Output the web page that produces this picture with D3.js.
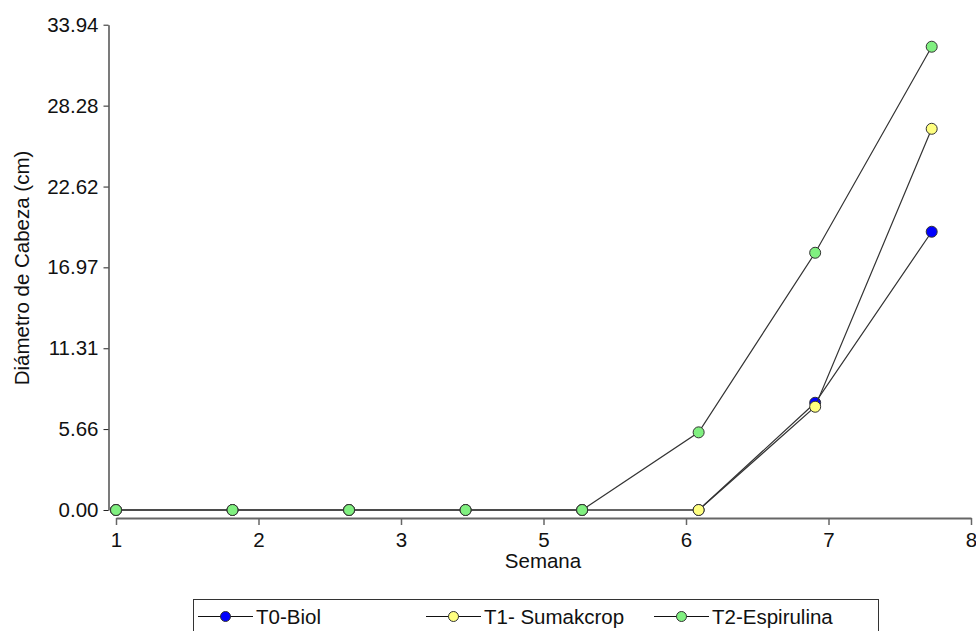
<!DOCTYPE html>
<html>
<head>
<meta charset="utf-8">
<script src="https://cdn.jsdelivr.net/npm/d3@7"></script>
<style>
  html, body { margin: 0; padding: 0; background: #fff; }
  svg { display: block; }
  text { font-family: "Liberation Sans", Arial, sans-serif; fill: #111; }
</style>
</head>
<body>
<svg id="chart" width="976" height="631"></svg>
<script>
// ---- data ----
const weeks = [1, 2, 3, 4, 5, 6, 7, 8];
const t0Biol = [0, 0, 0, 0, 0, 0, 7.50, 19.46];
const t1Sumakcrop = [0, 0, 0, 0, 0, 0, 7.22, 26.66];
const t2Espirulina = [0, 0, 0, 0, 0, 5.43, 17.99, 32.40];
const seriesNames = ["T0-Biol", "T1- Sumakcrop", "T2-Espirulina"];
const seriesColors = ["#0000ff", "#ffff80", "#80f080"];
const yTicks = [0, 5.66, 11.31, 16.97, 22.62, 28.28, 33.94];
const xTickLabels = ["1", "2", "3", "5", "6", "7", "8"];

const series = [t0Biol, t1Sumakcrop, t2Espirulina].map((vals, i) => ({
  name: seriesNames[i], color: seriesColors[i],
  pts: weeks.map((w, j) => ({ x: w, y: vals[j] }))
}));

const svg = d3.select("#chart");
const FS = "20.5px";

const x = d3.scaleLinear().domain([1, 8]).range([116, 931.7]);
const xAxisScale = d3.scalePoint().domain(xTickLabels).range([116, 971]);
const y = d3.scaleLinear().domain([0, 33.94]).range([510, 24.7]);

// y axis
const gy = svg.append("g").attr("transform", "translate(108.5,0)")
  .call(d3.axisLeft(y).tickValues(yTicks).tickFormat(d3.format(".2f"))
    .tickSize(5).tickSizeOuter(0).tickPadding(5));
gy.select(".domain").attr("stroke", "#222").attr("stroke-width", 1.2);
gy.selectAll(".tick line").attr("stroke", "#222");
gy.selectAll(".tick text").style("font-size", FS).attr("fill", "#111");

// x axis
const gx = svg.append("g").attr("transform", "translate(0,518)")
  .call(d3.axisBottom(xAxisScale).tickSize(7).tickSizeOuter(0).tickPadding(7));
gx.select(".domain").attr("stroke", "#666").attr("stroke-width", 2);
gx.selectAll(".tick line").attr("stroke", "#666").attr("stroke-width", 1.5);
gx.selectAll(".tick text").style("font-size", FS).attr("fill", "#111");

// axis titles
svg.append("text").attr("x", 543).attr("y", 568).attr("text-anchor", "middle")
  .style("font-size", FS).text("Semana");
svg.append("text").attr("transform", "translate(29,268) rotate(-90)")
  .attr("text-anchor", "middle").style("font-size", FS).text("Diámetro de Cabeza (cm)");

// lines and markers
const line = d3.line().x(d => x(d.x)).y(d => y(d.y));
const gs = svg.selectAll("g.series").data(series).join("g").attr("class", "series");
gs.append("path").attr("d", d => line(d.pts)).attr("fill", "none")
  .attr("stroke", "#333").attr("stroke-width", 1.2);
gs.selectAll("circle").data(d => d.pts.map(p => ({ ...p, color: d.color }))).join("circle")
  .attr("cx", d => x(d.x)).attr("cy", d => y(d.y)).attr("r", 5.5)
  .attr("fill", d => d.color).attr("stroke", "#333").attr("stroke-width", 1);

// legend
const legend = svg.append("g");
legend.append("rect").attr("x", 193.5).attr("y", 599.5).attr("width", 685).attr("height", 60)
  .attr("fill", "none").attr("stroke", "#333").attr("stroke-width", 1);
const legendX = d3.scaleOrdinal().domain(seriesNames).range([198, 426, 654]);
const li = legend.selectAll("g.item").data(series).join("g").attr("class", "item")
  .attr("transform", d => `translate(${legendX(d.name)},616.5)`);
li.append("line").attr("x1", 0).attr("x2", 55).attr("stroke", "#111").attr("stroke-width", 1.2);
li.append("circle").attr("cx", 27.5).attr("r", 5).attr("fill", d => d.color)
  .attr("stroke", "#333").attr("stroke-width", 1);
li.append("text").attr("x", 58).attr("y", 7.5).style("font-size", FS).text(d => d.name);
</script>
</body>
</html>
